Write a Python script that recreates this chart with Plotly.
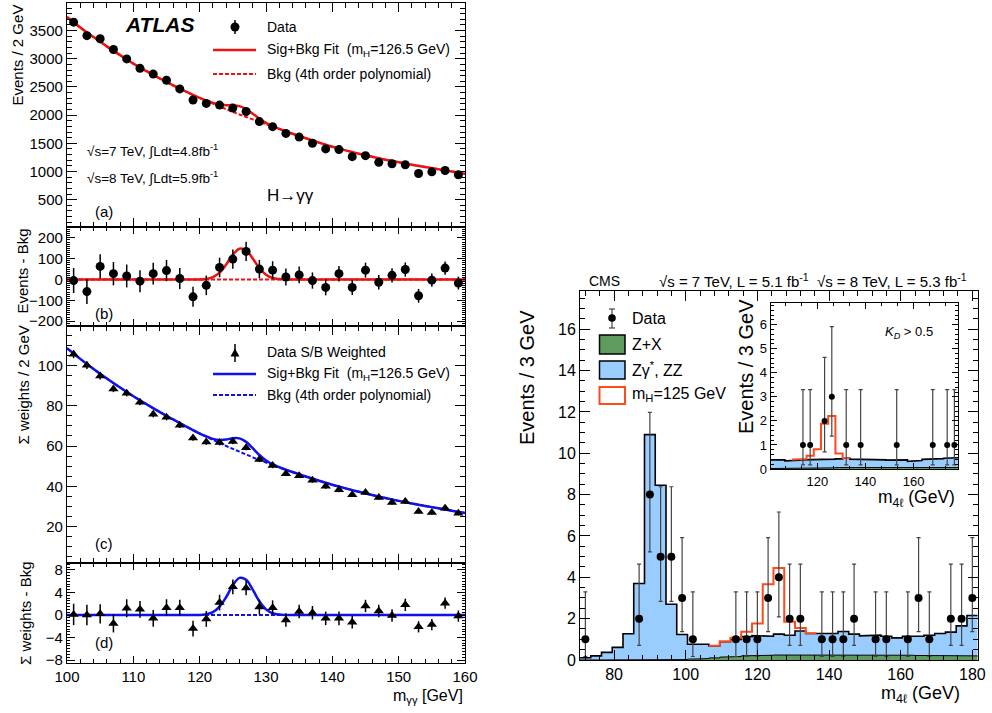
import plotly.graph_objects as go

W, H = 992, 713
FONT = "Liberation Sans, Arial, Helvetica, sans-serif"

# ---------------- ATLAS  H -> gamma gamma ----------------
m_gg = [101, 103, 105, 107, 109, 111, 113, 115, 117, 119, 121, 123, 125, 127, 129,
        131, 133, 135, 137, 139, 141, 143, 145, 147, 149, 151, 153, 155, 157, 159]
events = [3650, 3410, 3356, 3165, 2998, 2830, 2728, 2620, 2465, 2268, 2208, 2178, 2125, 2065, 1885,
          1795, 1676, 1610, 1502, 1401, 1389, 1263, 1281, 1162, 1138, 1120, 964, 994, 1018, 940]
events_err = [60, 59, 58, 56, 55, 53, 52, 51, 50, 48, 47, 47, 46, 46, 44,
              43, 41, 40, 39, 38, 37, 36, 36, 35, 34, 34, 33, 32, 32, 31]
resid = [-5, -58, 63, 28, 17, -8, 28, 43, 5, -83, -28, 58, 98, 135, 50,
         45, 12, 22, -5, -38, 28, -38, 45, -13, 20, 48, -78, -3, 55, -17]
wsum = [105.5, 100, 94.7, 88.3, 86.2, 81.7, 75.8, 74.2, 70.3, 64, 62, 61.7, 62.2, 59.2, 53.3,
        50.3, 46.3, 45.3, 43, 40, 38.3, 35.8, 37, 34.5, 32, 32.5, 27.5, 27, 29.2, 26.7]
wres = [0.1, 0, 0.2, -1.5, 1.2, 1.0, -0.6, 1.3, 1.3, -2.4, -0.7, 2.2, 5.0, 4.8, 1.4,
        1.3, -0.9, 0.6, 0.4, -0.6, -0.6, -1.3, 1.6, 0.7, -0.1, 1.8, -2.1, -1.7, 2.1, -0.2]
wres_err = [1.9, 1.8, 1.7, 1.6, 1.6, 1.5, 1.5, 1.5, 1.4, 1.4, 1.4, 1.4, 1.3, 1.3, 1.3,
            1.3, 1.2, 1.2, 1.2, 1.2, 1.2, 1.1, 1.1, 1.1, 1.1, 1.1, 1.0, 1.0, 1.0, 1.0]

fit_x = [100, 102, 104, 106, 108, 110, 112, 114, 116, 118, 120,
         121, 122, 123, 124, 125, 126, 127, 128, 129, 130, 131, 132, 133, 134,
         136, 138, 140, 142, 144, 146, 148, 150, 152, 154, 156, 158, 160]
bkg_ev = [3740, 3555, 3385, 3220, 3065, 2915, 2780, 2650, 2530, 2415, 2305,
          2255, 2205, 2155, 2105, 2058, 2012, 1968, 1924, 1881, 1840, 1797, 1754, 1712, 1670,
          1590, 1512, 1440, 1375, 1315, 1260, 1210, 1165, 1120, 1080, 1040, 1000, 960]
sig_ev = [0, 0, 0, 0, 0, 0, 0, 0, 0, 0, 0,
          3, 12, 33, 72, 119, 148, 140, 101, 55, 23, 7, 2, 0, 0,
          0, 0, 0, 0, 0, 0, 0, 0, 0, 0, 0, 0, 0]
bkg_w = [108.5, 103.2, 98.2, 93.5, 89.0, 84.7, 80.7, 76.8, 73.2, 69.6, 66.2,
         64.6, 63.0, 61.5, 60.0, 58.6, 57.2, 55.8, 54.4, 53.1, 51.8, 50.6, 49.4, 48.2, 47.1,
         44.9, 42.8, 40.8, 39.0, 37.3, 35.7, 34.2, 32.8, 31.5, 30.3, 29.1, 27.9, 26.8]
sig_w = [0, 0, 0, 0, 0, 0, 0, 0, 0, 0, 0,
         0.14, 0.52, 1.48, 3.2, 5.3, 6.6, 6.25, 4.5, 2.44, 1.0, 0.31, 0.07, 0.01, 0,
         0, 0, 0, 0, 0, 0, 0, 0, 0, 0, 0, 0, 0]

# ---------------- CMS  H -> ZZ -> 4l ----------------
cms_bins = [72, 75, 78, 81, 84, 87, 90, 93, 96, 99, 102, 105, 108, 111, 114, 117, 120, 123, 126,
            129, 132, 135, 138, 141, 144, 147, 150, 153, 156, 159, 162, 165, 168, 171, 174, 177, 180]
zx_bkg = [0, 0, 0, 0, 0, 0, 0.005, 0.005, 0.01, 0.02, 0.04, 0.07, 0.1, 0.14, 0.17, 0.2, 0.22, 0.23, 0.24,
          0.25, 0.26, 0.26, 0.26, 0.26, 0.26, 0.25, 0.25, 0.24, 0.24, 0.23, 0.23, 0.22, 0.22, 0.21, 0.21, 0.2, 0.2]
tot_bkg = [0.11, 0.2, 0.37, 0.61, 1.27, 3.7, 10.9, 8.45, 2.7, 1.23, 0.76, 0.76, 0.68, 0.89, 1.0, 1.13, 1.18, 1.15, 1.25,
           1.2, 1.4, 1.28, 1.28, 1.28, 1.38, 1.25, 1.17, 1.2, 1.15, 1.07, 1.15, 1.15, 1.2, 1.28, 1.35, 1.65, 2.15]
sig_bins = [108, 111, 114, 117, 120, 123, 126, 129, 132, 135]
sig_tot = [0.69, 0.9, 1.08, 1.37, 1.77, 3.66, 4.45, 1.85, 1.55, 1.29]
data_x = [72, 87, 90, 93, 96, 99, 102, 114, 117, 120, 123, 126, 129, 132, 138, 141, 144, 147,
          153, 156, 162, 165, 168, 174, 177, 180]
data_n = [1, 2, 8, 5, 5, 3, 1, 1, 1, 1, 3, 4, 2, 2, 1, 1, 1, 2, 1, 1, 1, 3, 1, 2, 2, 3]
# Poisson (Garwood) interval half-widths per observed count
err_hi = {1: 2.30, 2: 2.64, 3: 2.92, 4: 3.16, 5: 3.38, 8: 3.98}
err_lo = {1: 0.83, 2: 1.29, 3: 1.63, 4: 1.91, 5: 2.16, 8: 2.77}

in_bins = [102, 105, 108, 111, 114, 117, 120, 123, 126, 129, 132, 135, 138, 141, 144, 147, 150,
           153, 156, 159, 162, 165, 168, 171, 174, 177]
in_zx = [0.02, 0.02, 0.03, 0.03, 0.04, 0.04, 0.05, 0.05, 0.05, 0.06, 0.06, 0.06, 0.06, 0.06, 0.06,
         0.06, 0.06, 0.06, 0.06, 0.06, 0.06, 0.06, 0.06, 0.06, 0.06, 0.06]
in_tot = [0.38, 0.38, 0.34, 0.36, 0.38, 0.40, 0.41, 0.40, 0.41, 0.42, 0.46, 0.41, 0.40, 0.40, 0.41,
          0.38, 0.37, 0.37, 0.38, 0.32, 0.35, 0.40, 0.41, 0.43, 0.45, 0.47]
in_sig_bins = [111, 114, 117, 120, 123, 126, 129, 132]
in_sig_tot = [0.39, 0.42, 0.55, 0.82, 1.88, 2.2, 0.64, 0.46]
in_data_x = [114, 117, 123, 126, 132, 138, 153, 168, 174, 177]
in_data_n = [1, 1, 2, 3, 1, 1, 1, 1, 1, 1]

RED = "#ee1111"
BLUE = "#1010ee"
CRED = "#ff4a1c"
CGREEN = "#5f9a5f"
CBLUE = "#99ccff"


def steps(centers, vals, w=3.0):
    xs, ys = [], []
    for c, v in zip(centers, vals):
        xs += [c - w / 2, c + w / 2]
        ys += [v, v]
    return xs, ys


fig = go.Figure()

sb_ev = [b + s for b, s in zip(bkg_ev, sig_ev)]
sb_w = [b + s for b, s in zip(bkg_w, sig_w)]
zero_line = [0 for _ in fit_x]

# (a)
fig.add_trace(go.Scatter(x=fit_x, y=bkg_ev, mode="lines", xaxis="x", yaxis="y",
                         line=dict(color=RED, width=2, dash="4px,2px", shape="spline")))
fig.add_trace(go.Scatter(x=fit_x, y=sb_ev, mode="lines", xaxis="x", yaxis="y",
                         line=dict(color=RED, width=2.5, shape="spline")))
fig.add_trace(go.Scatter(x=m_gg, y=events, mode="markers", xaxis="x", yaxis="y",
                         marker=dict(symbol="circle", size=9, color="black"),
                         error_y=dict(type="data", array=events_err, color="black", thickness=1.5, width=0)))
# (b)
fig.add_trace(go.Scatter(x=fit_x, y=zero_line, mode="lines", xaxis="x2", yaxis="y2",
                         line=dict(color=RED, width=2, dash="4px,2px")))
fig.add_trace(go.Scatter(x=fit_x, y=sig_ev, mode="lines", xaxis="x2", yaxis="y2",
                         line=dict(color=RED, width=2.5, shape="spline")))
fig.add_trace(go.Scatter(x=m_gg, y=resid, mode="markers", xaxis="x2", yaxis="y2",
                         marker=dict(symbol="circle", size=9, color="black"),
                         error_y=dict(type="data", array=events_err, color="black", thickness=1.5, width=0)))
# (c)
fig.add_trace(go.Scatter(x=fit_x, y=bkg_w, mode="lines", xaxis="x3", yaxis="y3",
                         line=dict(color=BLUE, width=2, dash="4px,2px", shape="spline")))
fig.add_trace(go.Scatter(x=fit_x, y=sb_w, mode="lines", xaxis="x3", yaxis="y3",
                         line=dict(color=BLUE, width=2.5, shape="spline")))
fig.add_trace(go.Scatter(x=m_gg, y=wsum, mode="markers", xaxis="x3", yaxis="y3",
                         marker=dict(symbol="triangle-up", size=9, color="black"),
                         error_y=dict(type="data", array=wres_err, color="black", thickness=1.5, width=0)))
# (d)
fig.add_trace(go.Scatter(x=fit_x, y=zero_line, mode="lines", xaxis="x4", yaxis="y4",
                         line=dict(color=BLUE, width=2, dash="4px,2px")))
fig.add_trace(go.Scatter(x=fit_x, y=sig_w, mode="lines", xaxis="x4", yaxis="y4",
                         line=dict(color=BLUE, width=2.5, shape="spline")))
fig.add_trace(go.Scatter(x=m_gg, y=wres, mode="markers", xaxis="x4", yaxis="y4",
                         marker=dict(symbol="triangle-up", size=9, color="black"),
                         error_y=dict(type="data", array=wres_err, color="black", thickness=1.5, width=0)))

# CMS main
gx, gy = steps(cms_bins, zx_bkg)
bx, by = steps(cms_bins, tot_bkg)
rx, ry = steps(sig_bins, sig_tot)
fig.add_trace(go.Scatter(x=gx, y=gy, mode="lines", fill="tozeroy", fillcolor=CGREEN,
                         line=dict(color="black", width=1), xaxis="x5", yaxis="y5"))
fig.add_trace(go.Scatter(x=bx, y=by, mode="lines", fill="tonexty", fillcolor=CBLUE,
                         line=dict(color="black", width=1.6), xaxis="x5", yaxis="y5"))
fig.add_trace(go.Scatter(x=rx, y=ry, mode="lines", line=dict(color=CRED, width=2),
                         xaxis="x5", yaxis="y5"))
fig.add_trace(go.Scatter(x=data_x, y=data_n, mode="markers", xaxis="x5", yaxis="y5",
                         marker=dict(symbol="circle", size=8, color="black"),
                         error_y=dict(type="data", symmetric=False,
                                      array=[err_hi[n] for n in data_n],
                                      arrayminus=[err_lo[n] for n in data_n],
                                      color="#444444", thickness=1.2, width=2)))
# CMS inset
igx, igy = steps(in_bins, in_zx)
ibx, iby = steps(in_bins, in_tot)
irx, iry = steps(in_sig_bins, in_sig_tot)
fig.add_trace(go.Scatter(x=igx, y=igy, mode="lines", fill="tozeroy", fillcolor=CGREEN,
                         line=dict(color="black", width=1), xaxis="x6", yaxis="y6"))
fig.add_trace(go.Scatter(x=ibx, y=iby, mode="lines", fill="tonexty", fillcolor=CBLUE,
                         line=dict(color="black", width=1.6), xaxis="x6", yaxis="y6"))
fig.add_trace(go.Scatter(x=irx, y=iry, mode="lines", line=dict(color=CRED, width=2),
                         xaxis="x6", yaxis="y6"))
fig.add_trace(go.Scatter(x=in_data_x, y=in_data_n, mode="markers", xaxis="x6", yaxis="y6",
                         marker=dict(symbol="circle", size=6, color="black"),
                         error_y=dict(type="data", symmetric=False,
                                      array=[err_hi[n] for n in in_data_n],
                                      arrayminus=[err_lo[n] for n in in_data_n],
                                      color="#444444", thickness=1.2, width=2)))


def X(px):
    return px / W


def Y(py):
    return 1 - py / H


def ax(dom, rng, anchor, dtick, tick0, mdtick, tlen=10, mlen=5, labels=True, size=15, lw=1.2):
    return dict(domain=dom, range=rng, anchor=anchor, dtick=dtick, tick0=tick0,
                showline=True, linecolor="black", linewidth=lw, mirror="allticks",
                ticks="inside", ticklen=tlen, tickwidth=1, tickcolor="black",
                showgrid=False, zeroline=False, showticklabels=labels, automargin=False,
                tickfont=dict(family=FONT, size=size, color="black"),
                minor=dict(dtick=mdtick, tick0=tick0, ticks="inside", ticklen=mlen,
                           tickwidth=1, tickcolor="black", showgrid=False))


ax_x = [X(67), X(465)]
layout = dict(
    xaxis=ax(ax_x, [100, 160], "y", 10, 100, 2, 9, 4.5, labels=False),
    yaxis=ax([Y(227), Y(3)], [15, 3990], "x", 500, 0, 100),
    xaxis2=ax(ax_x, [100, 160], "y2", 10, 100, 2, 7, 3.5, labels=False),
    yaxis2=ax([Y(326), Y(227)], [-223, 252], "x2", 100, 0, 10, 8, 3),
    xaxis3=ax(ax_x, [100, 160], "y3", 10, 100, 2, 9, 4.5, labels=False),
    yaxis3=ax([Y(563), Y(326)], [2, 119.5], "x3", 20, 0, 5),
    xaxis4=ax(ax_x, [100, 160], "y4", 10, 100, 2, 7, 3.5),
    yaxis4=ax([Y(663), Y(563)], [-8.53, 9.24], "x4", 4, 0, 0.5, 8, 3),
    xaxis5=ax([X(580), X(977.7)], [70.5, 181.5], "y5", 20, 80, 4, 10, 5, size=16, lw=1),
    yaxis5=ax([Y(660), Y(291)], [0, 17.85], "x5", 2, 0, 0.5, 10, 5, size=16, lw=1),
    xaxis6=ax([X(770.5), X(958)], [100.5, 178.5], "y6", 20, 0, 20 / 3, 6, 3, size=13, lw=1),
    yaxis6=ax([Y(469), Y(303)], [0, 6.9], "x6", 1, 0, 0.2, 6, 3, size=13, lw=1),
)


def txt(s, x, y, size, xa="left", ya="middle", angle=0):
    return dict(text=s, x=X(x), y=Y(y), xref="paper", yref="paper", xanchor=xa, yanchor=ya,
                showarrow=False, textangle=angle, font=dict(size=size, color="black", family=FONT))


ann = [
    txt("<b><i>ATLAS</i></b>", 159, 24, 21, xa="center"),
    txt("Data", 265, 27, 14),
    txt("Sig+Bkg Fit  (m<sub>H</sub>=126.5 GeV)", 265, 50, 14),
    txt("Bkg (4th order polynomial)", 265, 74, 14),
    txt("√s=7 TeV, ∫Ldt=4.8fb<sup>-1</sup>", 85, 150, 13.5),
    txt("√s=8 TeV, ∫Ldt=5.9fb<sup>-1</sup>", 85, 177, 13.5),
    txt("H→γγ", 265, 195, 17),
    txt("(a)", 93, 211, 15),
    txt("(b)", 93, 313, 15),
    txt("Data S/B Weighted", 265, 352, 14),
    txt("Sig+Bkg Fit  (m<sub>H</sub>=126.5 GeV)", 265, 374, 14),
    txt("Bkg (4th order polynomial)", 265, 395, 14),
    txt("(c)", 93, 543, 15),
    txt("(d)", 93, 642, 15),
    txt("Events / 2 GeV", 17.5, 55, 15, xa="center", angle=-90),
    txt("Events - Bkg", 21.5, 271, 15, xa="center", angle=-90),
    txt("Σ weights / 2 GeV", 22.5, 385, 15, xa="center", angle=-90),
    txt("Σ weights - Bkg", 25, 614, 15, xa="center", angle=-90),
    txt("m<sub>γγ</sub> [GeV]", 465, 696, 16, xa="right"),
    # CMS
    txt("CMS", 587, 281, 14),
    txt("√s = 7 TeV, L = 5.1 fb<sup>-1</sup>  √s = 8 TeV, L = 5.3 fb<sup>-1</sup>", 657, 280, 15),
    txt("Data", 630, 319, 16),
    txt("Z+X", 630, 344, 16),
    txt("Zγ<sup>*</sup>, ZZ", 630, 369, 16),
    txt("m<sub>H</sub>=125 GeV", 630, 394, 16),
    txt("<i>K<sub>D</sub></i> > 0.5", 883, 332, 13),
    txt("Events / 3 GeV", 527, 378, 20, xa="center", angle=-90),
    txt("Events / 3 GeV", 746, 367, 20, xa="center", angle=-90),
    txt("m<sub>4ℓ</sub> (GeV)", 962, 694, 18, xa="right"),
    txt("m<sub>4ℓ</sub> (GeV)", 957, 498, 17.5, xa="right"),
]


def pline(x0, y0, x1, y1, color, width, dash="solid"):
    return dict(type="line", xref="paper", yref="paper", x0=X(x0), y0=Y(y0), x1=X(x1), y1=Y(y1),
                line=dict(color=color, width=width, dash=dash))


def prect(x0, y0, x1, y1, fill, color, width):
    return dict(type="rect", xref="paper", yref="paper", x0=X(x0), y0=Y(y0), x1=X(x1), y1=Y(y1),
                fillcolor=fill, line=dict(color=color, width=width))


def pcirc(cx, cy, r):
    return dict(type="circle", xref="paper", yref="paper", x0=X(cx - r), y0=Y(cy + r),
                x1=X(cx + r), y1=Y(cy - r), fillcolor="black", line=dict(color="black", width=0))


def ptri(cx, cy, r):
    p = "M %f,%f L %f,%f L %f,%f Z" % (X(cx), Y(cy - r), X(cx - r), Y(cy + r * 0.8),
                                         X(cx + r), Y(cy + r * 0.8))
    return dict(type="path", xref="paper", yref="paper", path=p, fillcolor="black",
                line=dict(color="black", width=0))


shapes = [
    pline(235, 20, 235, 34, "black", 1.5), pcirc(235, 27, 4.5),
    pline(213, 50, 256, 50, RED, 2.5), pline(213, 74, 256, 74, RED, 2, "4px,2px"),
    pline(235, 344, 235, 362, "black", 1.5), ptri(235, 353, 4.5),
    pline(213, 374, 256, 374, BLUE, 2.5), pline(213, 395, 256, 395, BLUE, 2, "4px,2px"),
    pline(612, 309, 612, 328, "#444444", 1.2), pcirc(612, 318, 3.8),
    pline(609, 309, 615, 309, "#444444", 1.2), pline(609, 328, 615, 328, "#444444", 1.2),
    prect(599.5, 335, 625, 354, CGREEN, "black", 1.5),
    prect(599.5, 361, 625, 379, CBLUE, "black", 1.5),
    prect(599.5, 387, 625, 404, "white", CRED, 2),
]

fig.update_layout(
    width=W, height=H, margin=dict(l=0, r=0, t=0, b=0, autoexpand=False),
    paper_bgcolor="white", plot_bgcolor="white", showlegend=False,
    annotations=ann, shapes=shapes, **layout,
)

fig.write_html("out.html")
